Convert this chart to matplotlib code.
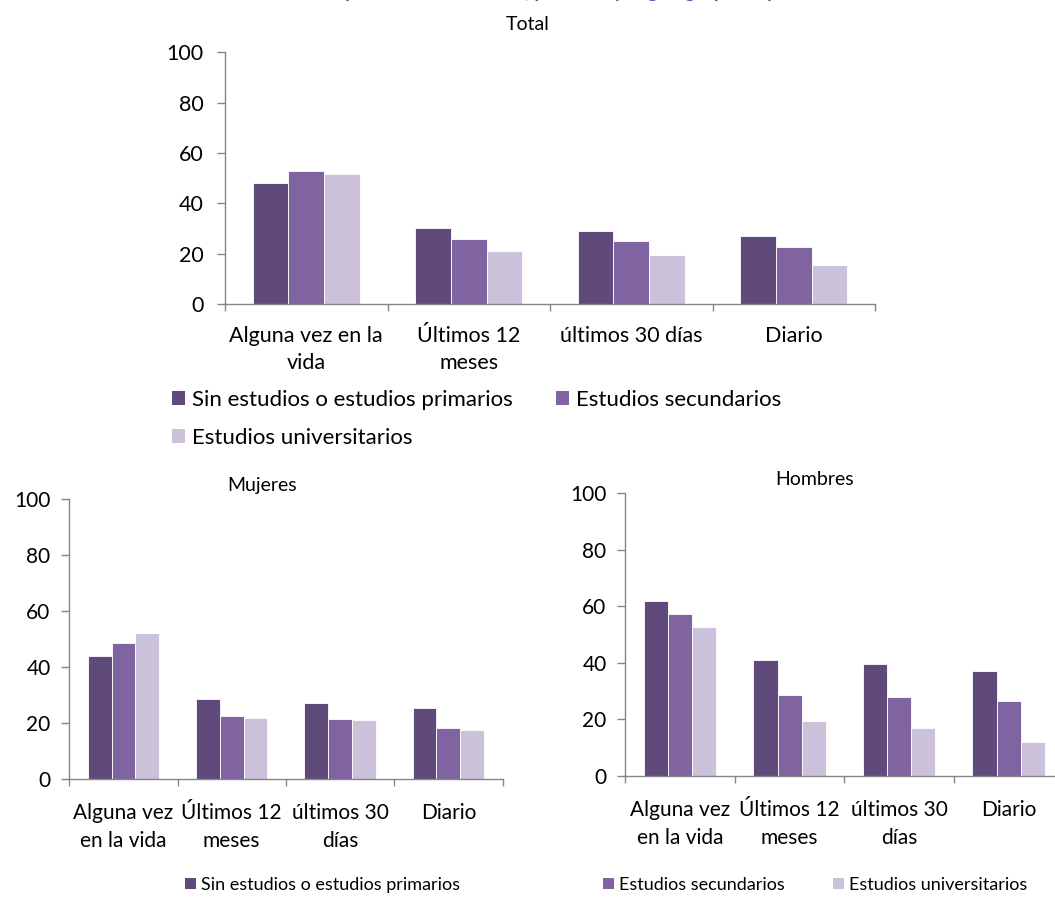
import numpy as np
import matplotlib
matplotlib.use("Agg")
import matplotlib.pyplot as plt
from matplotlib.patches import Patch

plt.rcParams['font.family'] = ['Lato', 'DejaVu Sans']

# figure size in pixels (dpi 100)
W, H = 1055, 899

# series and colours (Excel purple palette)
series_names = ["Sin estudios o estudios primarios", "Estudios secundarios", "Estudios universitarios"]
series_colors = ["#604A7B", "#8064A2", "#CCC1DA"]

labels_total = ["Alguna vez en la\nvida", "Últimos 12\nmeses", "últimos 30 días", "Diario"]
labels_sexo = ["Alguna vez\nen la vida", "Últimos 12\nmeses", "últimos 30\ndías", "Diario"]

# values (%)
total_primarios = [48.0, 30.3, 28.9, 27.1]
total_secundarios = [52.7, 25.9, 25.0, 22.6]
total_universitarios = [51.6, 21.1, 19.6, 15.5]

mujeres_primarios = [43.9, 28.6, 27.0, 25.4]
mujeres_secundarios = [48.5, 22.5, 21.3, 18.3]
mujeres_universitarios = [52.0, 21.8, 21.0, 17.6]

hombres_primarios = [61.9, 41.1, 39.7, 37.1]
hombres_secundarios = [57.3, 28.6, 27.8, 26.5]
hombres_universitarios = [52.7, 19.4, 17.0, 12.0]

# the heading of the original is cut off, only its descenders show
heading = "Gráfico 4. Prevalencia de consumo por nivel de estudios, por sexo y según grupo de población de 15 a 64 años"

GRAY = "#868686"


def axes_px(fig, left, top, right, bottom):
    """Add axes from pixel box (origin top-left)."""
    return fig.add_axes([left / W, 1 - bottom / H, (right - left) / W, (bottom - top) / H])


def draw_panel(ax, values, cat_labels, fsize, ypad, xpad, lspace):
    x = np.arange(len(cat_labels))
    width = 0.22
    for i, (vals, color) in enumerate(zip(values, series_colors)):
        ax.bar(x + (i - 1) * width, vals, width, color=color,
               edgecolor="white", linewidth=0.6, zorder=2)
    ax.set_xlim(-0.5, len(cat_labels) - 0.5)
    ax.set_ylim(0, 100)
    ax.set_yticks(range(0, 101, 20))
    # category boundaries as major ticks, labels on minor ticks
    ax.set_xticks(np.arange(-0.5, len(cat_labels), 1))
    ax.set_xticklabels([])
    ax.set_xticks(x, minor=True)
    ax.set_xticklabels(cat_labels, minor=True)
    ax.tick_params(axis="x", which="major", length=5, width=1.0, color=GRAY, direction="out")
    ax.tick_params(axis="x", which="minor", length=0, pad=xpad, labelsize=fsize)
    ax.tick_params(axis="y", length=5.5, width=1.0, color=GRAY, pad=ypad, labelsize=fsize)
    for s in ["top", "right"]:
        ax.spines[s].set_visible(False)
    for s in ["left", "bottom"]:
        ax.spines[s].set_color(GRAY)
        ax.spines[s].set_linewidth(1.0)
    for lab in ax.get_xticklabels(minor=True):
        lab.set_linespacing(lspace)


def legend_item(fig, idx, x, y, fsize):
    h = Patch(facecolor=series_colors[idx], edgecolor="none")
    fig.legend(handles=[h], labels=[series_names[idx]], loc="center left",
               bbox_to_anchor=(x / W, 1 - y / H), frameon=False, fontsize=fsize,
               handlelength=0.6, handleheight=0.6, handletextpad=0.3,
               borderpad=0, borderaxespad=0)


fig = plt.figure(figsize=(W / 100, H / 100), dpi=100)

fig.text(40 / W, 1 + 2 / H, heading, fontsize=14, fontweight="bold",
         color="#6F4FA0", ha="left", va="baseline")

# Total
ax_t = axes_px(fig, 225, 52.3, 875, 304)
draw_panel(ax_t, [total_primarios, total_secundarios, total_universitarios],
           labels_total, fsize=15.5, ypad=10, xpad=15.5, lspace=1.45)
fig.text(528 / W, 1 - 25 / H, "Total", ha="center", va="center", fontsize=14)
legend_item(fig, 0, 172, 400, 16)
legend_item(fig, 1, 556, 400, 16)
legend_item(fig, 2, 172, 438, 16)

# Mujeres
ax_m = axes_px(fig, 69.3, 499, 502.5, 779)
draw_panel(ax_m, [mujeres_primarios, mujeres_secundarios, mujeres_universitarios],
           labels_sexo, fsize=15, ypad=8, xpad=17.5, lspace=1.5)
fig.text(262 / W, 1 - 485 / H, "Mujeres", ha="center", va="center", fontsize=14)

# Hombres (its right end is cut by the image edge)
ax_h = axes_px(fig, 625.3, 493.4, 1063.3, 775.7)
draw_panel(ax_h, [hombres_primarios, hombres_secundarios, hombres_universitarios],
           labels_sexo, fsize=15, ypad=8, xpad=17.5, lspace=1.5)
fig.text(815 / W, 1 - 479 / H, "Hombres", ha="center", va="center", fontsize=14)

legend_item(fig, 0, 185, 885, 13)
legend_item(fig, 1, 603, 885, 13)
legend_item(fig, 2, 833, 885, 13)

fig.savefig("out.png", dpi=100)
